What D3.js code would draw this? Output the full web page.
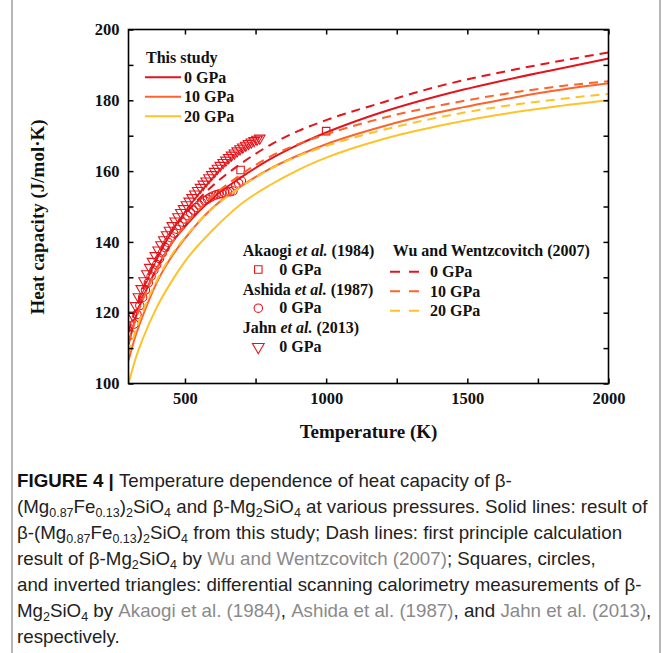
<!DOCTYPE html>
<html><head><meta charset="utf-8">
<script src="https://cdn.jsdelivr.net/npm/d3@7"></script>
<style>body{margin:0;background:#fff;} svg{display:block;}</style>
</head><body>
<svg id="c" width="663" height="653"></svg>
<script>
// ---------- data ----------
const tGrid   = [300,325,350,400,450,500,600,700,800,900,1000,1200,1400,1600,1800,2000];
const study0  = [111,118.5,124,132.5,139.3,144.3,152.5,158.3,163.3,167.4,170.9,176.7,181.3,185.1,188.5,191.8];
const study10 = [106.5,113.5,119,128.5,135.5,141,149.8,155.8,160.6,164.4,167.6,172.6,176.6,179.8,182.6,184.8];
const study20 = [100,107,112.5,121.5,128.5,134.5,143.5,150.8,156,160.3,163.8,169,172.8,175.8,178.1,180];
const wu0  = [114.5,121,126.5,135.5,142.5,147.8,156,162.2,167.3,171.3,174.4,179.4,184,187.6,190.7,193.5];
const wu10 = [111.5,118,123.5,132.3,139.3,144.7,153,159.1,164,167.6,170.4,175,178.5,181.4,183.7,185.4];
const wu20 = [108.5,114.8,120.2,129,136,141.3,149.6,155.6,160.5,164.2,167.1,171.6,175.2,178,180.1,181.8];

const jahnT  = [305,315,325,335,345,355,365,375,385,395,405,415,425,435,445,455,465,475,485,495,505,515,525,535,545,555,565,575,585,595,605,615,625,635,645,655,665,675,685,695,705,715,725,735,745,755,765];
const jahnCp = [116.5,119.3,122,124.5,126.8,129,131,132.8,134.5,136.1,137.7,139.2,140.6,142,143.3,144.6,145.9,147.1,148.3,149.4,150.5,151.5,152.5,153.5,154.5,155.4,156.3,157.2,158.1,159,159.9,160.8,161.6,162.4,163.1,163.8,164.5,165.1,165.7,166.3,166.8,167.3,167.8,168.2,168.6,169,169.3];

const ashidaT  = [310,320,330,340,350,360,370,380,390,400,410,420,430,440,450,460,470,480,490,500,510,520,530,540,550,560,570,580,590,600,610,620,630,640,650,660,670,680,690,700];
const ashidaCp = [113.8,116.8,119.5,122,124.3,126.4,128.4,130.3,132,133.6,135.3,136.9,138.4,139.9,141.2,142.5,143.6,144.6,145.6,146.5,147.4,148.2,149,149.7,150.4,151,151.6,152.1,152.6,153,153.3,153.5,153.7,153.9,154.1,154.2,154.4,155.8,156.6,157.2];

const akaogiT  = [697,1000];
const akaogiCp = [160.3,171.3];

const xTickVals = [500,750,1000,1250,1500,1750,2000];
const xTickLabels = [500,1000,1500,2000];
const yTickVals = [100,110,120,130,140,150,160,170,180,190,200];
const yTickLabels = [100,120,140,160,180,200];

const studyLabels = ["0 GPa","10 GPa","20 GPa"];
const colors = ["#e3141b","#ff6329","#ffc229"];

// ---------- layout ----------
const svg = d3.select("#c");
const L=128.5, R=608.5, T=29.5, B=383.5;
const x = d3.scaleLinear().domain([300,2000]).range([L,R]);
const y = d3.scaleLinear().domain([100,200]).range([B,T]);
const serif = "'Liberation Serif','Times New Roman',serif";

// figure border lines
svg.append("line").attr("x1",12).attr("x2",12).attr("y1",0).attr("y2",653).attr("stroke","#b5b5b5").attr("stroke-width",2);
svg.append("line").attr("x1",660).attr("x2",660).attr("y1",0).attr("y2",653).attr("stroke","#b5b5b5").attr("stroke-width",2);

svg.append("clipPath").attr("id","clip").append("rect").attr("x",L).attr("y",T).attr("width",R-L).attr("height",B-T);

const line = d3.line().x(d=>x(d[0])).y(d=>y(d[1])).curve(d3.curveMonotoneX);
const g = svg.append("g").attr("clip-path","url(#clip)");

const mk = "#e3141b";
const triSym = d3.symbol().type(d3.symbolTriangle).size(48);
const sqSym = d3.symbol().type(d3.symbolSquare).size(56);
g.selectAll(".cir").data(ashidaT.map((t,i)=>[t,ashidaCp[i]])).enter().append("circle")
  .attr("cx",d=>x(d[0])).attr("cy",d=>y(d[1])).attr("r",4.2)
  .attr("fill","none").attr("stroke",mk).attr("stroke-width",1.1);
g.selectAll(".tri").data(jahnT.map((t,i)=>[t,jahnCp[i]])).enter().append("path")
  .attr("d",triSym).attr("transform",d=>`translate(${x(d[0])},${y(d[1])}) rotate(180)`)
  .attr("fill","none").attr("stroke",mk).attr("stroke-width",1.1);
g.selectAll(".sq").data(akaogiT.map((t,i)=>[t,akaogiCp[i]])).enter().append("path")
  .attr("d",sqSym).attr("transform",d=>`translate(${x(d[0])},${y(d[1])})`)
  .attr("fill","none").attr("stroke",mk).attr("stroke-width",1.1);

[study0,study10,study20].forEach((s,i)=>{
  g.append("path").datum(tGrid.map((t,j)=>[t,s[j]])).attr("d",line)
   .attr("fill","none").attr("stroke",colors[i]).attr("stroke-width",2);
});
[wu0,wu10,wu20].forEach((s,i)=>{
  g.append("path").datum(tGrid.map((t,j)=>[t,s[j]])).attr("d",line)
   .attr("fill","none").attr("stroke",colors[i]).attr("stroke-width",2).attr("stroke-dasharray","9,6");
});

// axes
const fmtX = d => xTickLabels.includes(d) ? d : "";
const fmtY = d => yTickLabels.includes(d) ? d : "";
const ax = svg.append("g");
ax.append("g").attr("transform",`translate(0,${B})`).call(d3.axisBottom(x).tickValues(xTickVals).tickFormat(fmtX).tickSize(-5).tickPadding(9));
ax.append("g").attr("transform",`translate(0,${T})`).call(d3.axisTop(x).tickValues(xTickVals).tickFormat("").tickSize(-5));
ax.append("g").attr("transform",`translate(${L},0)`).call(d3.axisLeft(y).tickValues(yTickVals).tickFormat(fmtY).tickSize(-5).tickPadding(9));
ax.append("g").attr("transform",`translate(${R},0)`).call(d3.axisRight(y).tickValues(yTickVals).tickFormat("").tickSize(-5));
ax.selectAll(".domain").remove();
ax.selectAll(".tick line").attr("stroke","#000").attr("stroke-width",1.5);
ax.selectAll(".tick text").attr("font-family",serif).attr("font-weight","bold").attr("font-size","16.5px").attr("fill","#111");
svg.append("rect").attr("x",L).attr("y",T).attr("width",R-L).attr("height",B-T).attr("fill","none").attr("stroke","#000").attr("stroke-width",1.6);

// axis titles
svg.append("text").attr("x",(L+R)/2).attr("y",438).attr("text-anchor","middle")
  .attr("font-family",serif).attr("font-weight","bold").attr("font-size","19px").attr("fill","#111").text("Temperature (K)");
svg.append("text").attr("transform","translate(44,217) rotate(-90)").attr("text-anchor","middle")
  .attr("font-family",serif).attr("font-weight","bold").attr("font-size","19px").attr("fill","#111").text("Heat capacity (J/mol·K)");

// legend: this study
const lg = svg.append("g").attr("font-family",serif).attr("font-weight","bold").attr("font-size","16px").attr("fill","#111");
lg.append("text").attr("x",146).attr("y",63).text("This study");
studyLabels.forEach((s,i)=>{
  const yy = 77.3 + i*19.5;
  lg.append("line").attr("x1",145).attr("x2",181).attr("y1",yy).attr("y2",yy).attr("stroke",colors[i]).attr("stroke-width",2);
  lg.append("text").attr("x",184).attr("y",yy+5.5).text(s);
});

// legend: experiments
const refs = [["Akaogi ","et al.", " (1984)"],["Ashida ","et al."," (1987)"],["Jahn ","et al."," (2013)"]];
refs.forEach((r,i)=>{
  const by = 256 + i*38.7;
  const t = lg.append("text").attr("x",242.7).attr("y",by);
  t.append("tspan").text(r[0]);
  t.append("tspan").attr("font-style","italic").text(r[1]);
  t.append("tspan").text(r[2]);
  lg.append("text").attr("x",279.3).attr("y",by+18.5).text("0 GPa");
  const mx=258.3, my=by+13.5;
  if(i===0) lg.append("path").attr("d",sqSym).attr("transform",`translate(${mx},${my})`).attr("fill","none").attr("stroke",mk).attr("stroke-width",1.1);
  if(i===1) lg.append("circle").attr("cx",mx).attr("cy",my).attr("r",4.2).attr("fill","none").attr("stroke",mk).attr("stroke-width",1.1);
  if(i===2) lg.append("path").attr("d",d3.symbol().type(d3.symbolTriangle).size(60)).attr("transform",`translate(${mx},${my}) rotate(180)`).attr("fill","none").attr("stroke",mk).attr("stroke-width",1.1);
});
lg.append("text").attr("x",392.7).attr("y",256).text("Wu and Wentzcovitch (2007)");
studyLabels.forEach((s,i)=>{
  const yy = 271.7 + i*19.5;
  lg.append("line").attr("x1",390).attr("x2",428).attr("y1",yy).attr("y2",yy).attr("stroke",colors[i]).attr("stroke-width",2).attr("stroke-dasharray","10,9");
  lg.append("text").attr("x",430).attr("y",yy+5.5).text(s);
});

// caption
const capLines = [
  [["FIGURE 4 | ","b"],["Temperature dependence of heat capacity of β-",""]],
  [["(Mg",""],["0.87","s"],["Fe",""],["0.13","s"],[")",""],["2","s"],["SiO",""],["4","s"],[" and β-Mg",""],["2","s"],["SiO",""],["4","s"],[" at various pressures. Solid lines: result of",""]],
  [["β-(Mg",""],["0.87","s"],["Fe",""],["0.13","s"],[")",""],["2","s"],["SiO",""],["4","s"],[" from this study; Dash lines: first principle calculation",""]],
  [["result of β-Mg",""],["2","s"],["SiO",""],["4","s"],[" by ",""],["Wu and Wentzcovitch (2007)","g"],["; Squares, circles,",""]],
  [["and inverted triangles: differential scanning calorimetry measurements of β-",""]],
  [["Mg",""],["2","s"],["SiO",""],["4","s"],[" by ",""],["Akaogi et al. (1984)","g"],[", ",""],["Ashida et al. (1987)","g"],[", and ",""],["Jahn et al. (2013)","g"],[",",""]],
  [["respectively.",""]]
];
const cap = svg.append("g").attr("font-family","'Liberation Sans',Arial,sans-serif").attr("font-size","18px").attr("fill","#222");
const capNodes = capLines.map((segs,i)=>{
  const t = cap.append("text").attr("x",0).attr("y",0);
  segs.forEach(([txt,st],j)=>{
    const ts = t.append("tspan").text(txt);
    if(st==="b") ts.attr("font-weight","bold").attr("fill","#111");
    if(st==="g") ts.attr("fill","#8a8a8a");
    if(st==="s") ts.attr("font-size","12px").attr("dy","4");
    if(j>0 && segs[j-1][1]==="s" && st!=="s") ts.attr("dy","-4");
  });
  return t;
});
const w2 = capNodes[1].node().getComputedTextLength();
const sx = 631 / w2;
capNodes.forEach((t,i)=>{
  t.attr("transform",`translate(17,${487 + i*26}) scale(${sx},1)`);
});
</script>
</body></html>
